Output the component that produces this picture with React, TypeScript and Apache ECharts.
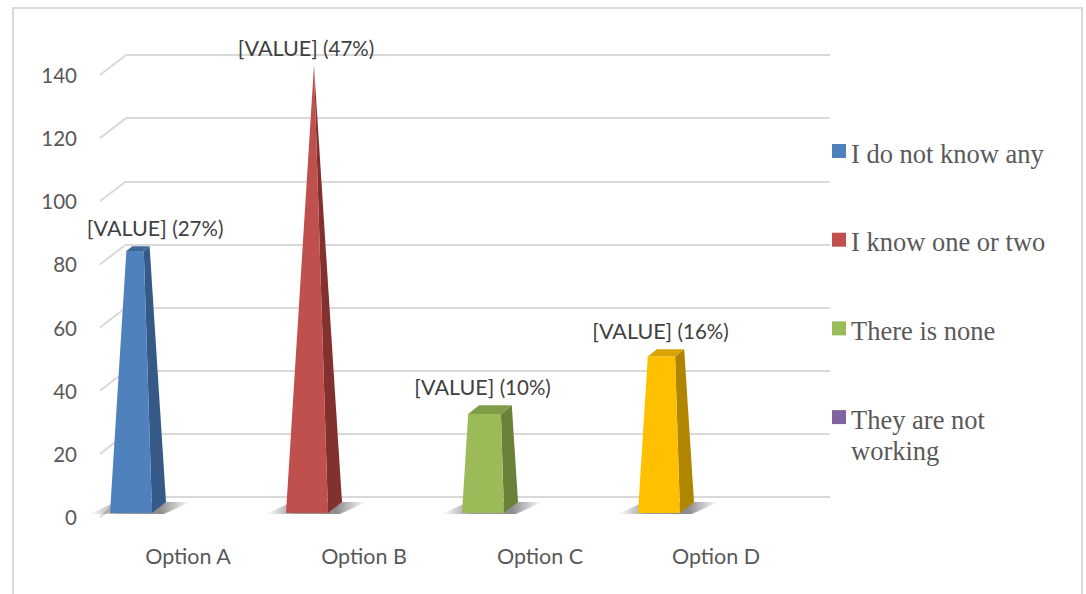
import React, { useEffect, useRef } from 'react';
import * as echarts from 'echarts';

const categories = ['Option A', 'Option B', 'Option C', 'Option D'];
const values = [82, 140, 31, 49];
const percentLabels = ['(27%)', '(47%)', '(10%)', '(16%)'];
const valueLabel = '[VALUE]';
const legendLabels = ['I do not know any', 'I know one or two', 'There is none', 'They are not\nworking'];
const yTicks = [0, 20, 40, 60, 80, 100, 120, 140];
const yMin = 0;
const yMax = 140;
const yStep = 20;

const frontColors = ['#4F81BD', '#C0504D', '#9BBB59', '#FFC000'];
const sideColors = ['#365A87', '#83312F', '#6B813A', '#B08500'];
const topColors = ['#40699B', '#A8403D', '#7F9C47', '#D9A300'];
const legendColors = ['#4F81BD', '#C0504D', '#9BBB59', '#8064A2'];

const SANS = 'Lato, "Open Sans", sans-serif';
const SERIF = '"Liberation Serif", "Times New Roman", serif';

export default function App() {
  const ref = useRef<HTMLDivElement>(null);
  useEffect(() => {
    if (!ref.current) return;
    const chart = echarts.init(ref.current, null, { renderer: 'svg' });
    const labelNudge = [20, -8, -2, -1];

    const legendGraphics: any[] = [];
    legendLabels.forEach((name, i) => {
      const cy = 151 + i * 88.7;
      legendGraphics.push({
        type: 'rect',
        shape: { x: 832, y: cy - 7, width: 14, height: 14 },
        style: { fill: legendColors[i] },
      });
      legendGraphics.push({
        type: 'text',
        x: 851,
        y: cy - 13,
        style: {
          text: name,
          font: `26.5px ${SERIF}`,
          lineHeight: 31,
          fill: '#595959',
          textAlign: 'left',
          textVerticalAlign: 'top',
        },
      });
    });

    const option: any = {
      animation: false,
      backgroundColor: '#FFFFFF',
      grid: [
        { left: 126, right: 256, top: 55, bottom: 97 },
        { left: 100, right: 282, top: 75, bottom: 77 },
      ],
      xAxis: [
        { type: 'category', gridIndex: 0, data: categories, show: false },
        {
          type: 'category',
          gridIndex: 1,
          data: categories,
          axisLine: { show: false },
          axisTick: { show: false },
          axisLabel: { color: '#595959', fontFamily: SANS, fontSize: 21.5, margin: 28 },
        },
      ],
      yAxis: [
        {
          type: 'value',
          gridIndex: 0,
          min: yMin,
          max: yMax,
          interval: yStep,
          axisLabel: { show: false },
          axisLine: { show: false },
          axisTick: { show: false },
          splitLine: { lineStyle: { color: '#D9D9D9', width: 2 } },
        },
        {
          type: 'value',
          gridIndex: 1,
          min: yMin,
          max: yMax,
          interval: yStep,
          axisLabel: { color: '#595959', fontFamily: SANS, fontSize: 20.5, margin: 23 },
          axisLine: { show: false },
          axisTick: { show: false },
          splitLine: { show: false },
        },
      ],
      series: [
        {
          type: 'custom',
          xAxisIndex: 0,
          yAxisIndex: 0,
          clip: false,
          silent: true,
          data: yTicks.map((v) => [0, v]),
          renderItem: (params: any, api: any) => {
            const y = api.coord([0, api.value(1)])[1];
            const x = params.coordSys.x;
            return {
              type: 'line',
              shape: { x1: x, y1: y, x2: x - 26, y2: y + 20 },
              style: { stroke: '#D9D9D9', lineWidth: 2 },
            };
          },
        },
        {
          type: 'custom',
          xAxisIndex: 1,
          yAxisIndex: 1,
          clip: false,
          silent: true,
          data: values.map((v, i) => [i, v]),
          renderItem: (params: any, api: any) => {
            const i = api.value(0);
            const v = api.value(1);
            const base = api.coord([i, 0]);
            const top = api.coord([i, v]);
            const apex = api.coord([i, yMax]);
            const H = base[1] - apex[1];
            const h = base[1] - top[1];
            const s = Math.max(0, 1 - h / H);
            const W = 42, DX = 14, DY = -11;
            const bx = base[0] - 57;
            const by = base[1] - 4;
            const cx0 = bx + DX / 2;
            const cy0 = by + DY / 2;
            const tcx = cx0 - (DX / 2) * s;
            const tcy = cy0 - h - (DY / 2) * s;
            const FL = [bx - W / 2, by];
            const FR = [bx + W / 2, by];
            const TL = [tcx - (W / 2) * s, tcy];
            const TR = [tcx + (W / 2) * s, tcy];
            const children: any[] = [];
            children.push({
              type: 'polygon',
              shape: {
                points: [
                  [FL[0] - 20, by + 1],
                  [FR[0] + 12, by + 1],
                  [FR[0] + DX + 24, by + DY],
                  [FL[0] + DX - 8, by + DY],
                ],
              },
              style: {
                fill: new echarts.graphic.LinearGradient(0, 0, 1, 0, [
                  { offset: 0, color: 'rgba(0,0,0,0)' },
                  { offset: 0.3, color: 'rgba(0,0,0,0.4)' },
                  { offset: 0.7, color: 'rgba(0,0,0,0.45)' },
                  { offset: 1, color: 'rgba(0,0,0,0)' },
                ]),
              },
            });
            children.push({
              type: 'polygon',
              shape: { points: [FR, [FR[0] + DX, FR[1] + DY], [TR[0] + DX * s, TR[1] + DY * s], TR] },
              style: { fill: sideColors[i] },
            });
            children.push({
              type: 'polygon',
              shape: { points: [FL, FR, TR, TL] },
              style: { fill: frontColors[i] },
            });
            if (s > 0.001) {
              children.push({
                type: 'polygon',
                shape: { points: [TL, TR, [TR[0] + DX * s, TR[1] + DY * s], [TL[0] + DX * s, TL[1] + DY * s]] },
                style: { fill: topColors[i] },
              });
            }
            children.push({
              type: 'text',
              x: tcx + labelNudge[i],
              y: tcy + DY * s - 18,
              style: {
                text: `{v|${valueLabel}} {p|${percentLabels[i]}}`,
                textAlign: 'center',
                textVerticalAlign: 'middle',
                rich: {
                  v: { fontFamily: SANS, fontSize: 21.5, fill: '#404040', color: '#404040' },
                  p: { fontFamily: SANS, fontSize: 20.5, fill: '#404040', color: '#404040' },
                },
                font: `21px ${SANS}`,
                fill: '#404040',
              },
            });
            return { type: 'group', children };
          },
        },
      ],
      graphic: [
        {
          type: 'rect',
          shape: { x: 13, y: 8, width: 1069, height: 600 },
          style: { fill: 'none', stroke: '#D9D9D9', lineWidth: 2 },
          silent: true,
        },
        ...legendGraphics,
      ],
    };
    chart.setOption(option);
    return () => chart.dispose();
  }, []);
  return (
    <div
      ref={ref}
      style={{ position: 'fixed', left: 0, top: 0, width: 1086, height: 594, background: '#fff' }}
    />
  );
}
